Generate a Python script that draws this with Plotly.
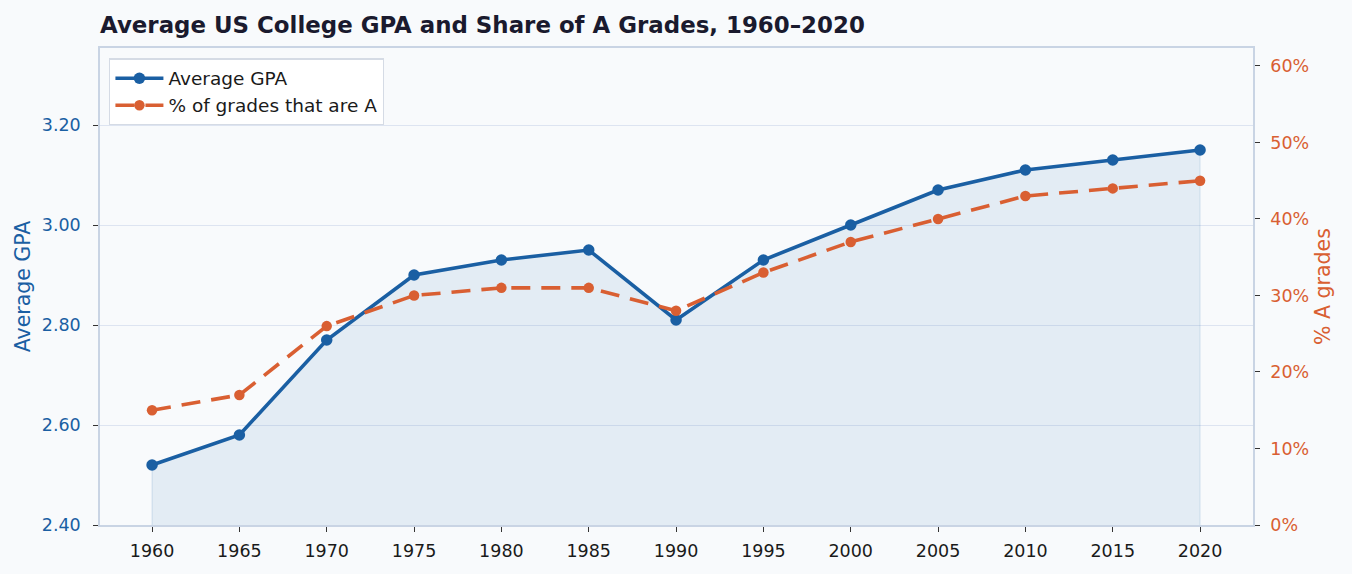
import plotly.graph_objects as go

years = [1960, 1965, 1970, 1975, 1980, 1985, 1990, 1995, 2000, 2005, 2010, 2015, 2020]
avg_gpa = [2.52, 2.58, 2.77, 2.90, 2.93, 2.95, 2.81, 2.93, 3.00, 3.07, 3.11, 3.13, 3.15]
pct_a = [15, 17, 26, 30, 31, 31, 28, 33, 37, 40, 43, 44, 45]

gpa_ticks = [2.40, 2.60, 2.80, 3.00, 3.20]
pct_ticks = [0, 10, 20, 30, 40, 50, 60]
pct_labels = [f"{v}%" for v in pct_ticks]

BLUE = "#1a5fa3"
ORANGE = "#d95f32"
BG = "#f8fafc"
SPINE = "#c9d4e4"
FONT = "DejaVu Sans"
GPA_BASE = gpa_ticks[0]

fig = go.Figure()
# shaded area under the GPA line (with faint edges like fill_between)
fig.add_trace(go.Scatter(
    x=[years[0]] + years + [years[-1]],
    y=[GPA_BASE] + avg_gpa + [GPA_BASE],
    mode="lines", fill="toself", fillcolor="rgba(26,95,163,0.09)",
    line=dict(color="rgba(26,95,163,0.12)", width=1.2),
    hoverinfo="skip", showlegend=False, yaxis="y",
))
fig.add_trace(go.Scatter(
    x=years, y=avg_gpa, name="Average GPA", mode="lines+markers",
    line=dict(color=BLUE, width=3.6), marker=dict(size=11.5, color=BLUE),
    yaxis="y",
))
fig.add_trace(go.Scatter(
    x=years, y=pct_a, name="% of grades that are A", mode="lines+markers",
    line=dict(color=ORANGE, width=3.6, dash="19px,11px"), marker=dict(size=10.5, color=ORANGE),
    yaxis="y2",
))

fig.update_layout(
    width=1352, height=574,
    margin=dict(l=100, r=99, t=48, b=49),
    paper_bgcolor=BG, plot_bgcolor=BG,
    font=dict(family=FONT, size=17, color="#1a1a1a"),
    title=dict(text="<b>Average US College GPA and Share of A Grades, 1960–2020</b>",
               x=100/1352, xanchor="left", xref="container", y=1 - 25/574, yanchor="middle",
               font=dict(size=22.9, color="#1a1a2e", family=FONT)),
    xaxis=dict(range=[1957.02, 2023.03], tickvals=years, ticks="outside", ticklen=5,
               tickcolor="#333", tickwidth=1.2, showgrid=False, showline=True, linecolor=SPINE,
               linewidth=1.5, mirror=True, zeroline=False, ticklabelstandoff=4,
               tickfont=dict(size=17.5, color="#1a1a1a")),
    yaxis=dict(range=[2.40, 3.354], tickvals=gpa_ticks, tickformat=".2f", ticks="outside",
               ticklen=5, tickcolor="#333", tickwidth=1.2, showgrid=True, gridcolor="#dde4f1",
               gridwidth=1, showline=True, linecolor=SPINE, linewidth=1.5, zeroline=False,
               ticklabelstandoff=9,
               tickfont=dict(size=17.5, color=BLUE),
               title=dict(text="Average GPA", font=dict(size=20.5, color=BLUE), standoff=6)),
    yaxis2=dict(range=[0, 62.35], tickmode="array", tickvals=pct_ticks, ticktext=pct_labels,
                overlaying="y", side="right", ticks="outside", ticklen=5, tickcolor="#333",
                tickwidth=1.2, showgrid=False, showline=True, linecolor=SPINE, linewidth=1.5,
                zeroline=False, ticklabelstandoff=7,
                tickfont=dict(size=17.5, color=ORANGE),
                title=dict(text="% A grades", font=dict(size=20.5, color=ORANGE), standoff=7)),
    legend=dict(x=0.008, y=0.978, xanchor="left", yanchor="top", bgcolor="white",
                bordercolor="#d5dbe5", borderwidth=1.2, font=dict(size=18.5, color="#1a1a1a"),
                itemwidth=48),
    showlegend=True,
)

fig.write_html("out.html")
